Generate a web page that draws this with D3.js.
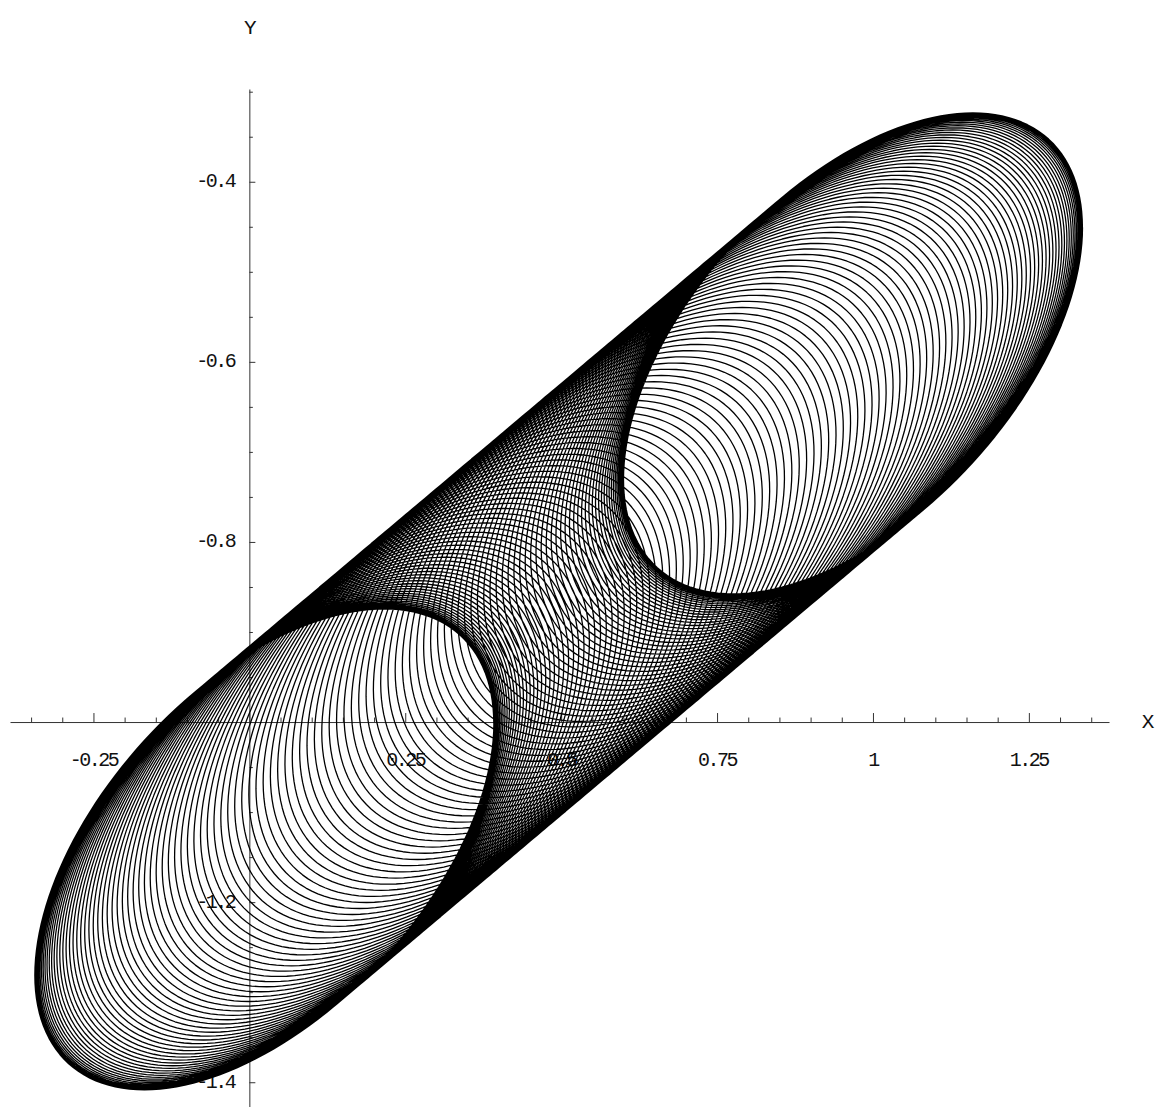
<!DOCTYPE html>
<html>
<head>
<meta charset="utf-8">
<script src="https://cdn.jsdelivr.net/npm/d3@7"></script>
<style>
  html, body { margin: 0; padding: 0; background: #fff; }
  svg { display: block; }
  .lbl { font-family: "Liberation Mono", "DejaVu Sans Mono", monospace; font-size: 20px; fill: #111; letter-spacing: -2.5px; }
  .axname { font-family: "Liberation Mono", "DejaVu Sans Mono", monospace; font-size: 21px; fill: #111; }
</style>
</head>
<body>
<svg id="chart" width="1159" height="1107"></svg>
<script>
// Plot window in data units and where the axes cross
const xDomain = [-0.3838, 1.3785];
const yDomain = [-1.4275, -0.297];
const axesOrigin = [0, -1];

// Axis ticks and labels
const xMajorTicks  = [-0.25, 0, 0.25, 0.5, 0.75, 1, 1.25];
const xTickLabels  = ["-0.25", "", "0.25", "0.5", "0.75", "1", "1.25"];
const xMinorTicks  = [-0.35, -0.3, -0.2, -0.15, -0.1, -0.05, 0.05, 0.1, 0.15, 0.2,
                      0.3, 0.35, 0.4, 0.45, 0.55, 0.6, 0.65, 0.7, 0.8, 0.85, 0.9, 0.95,
                      1.05, 1.1, 1.15, 1.2, 1.3, 1.35];
const yMajorTicks  = [-1.4, -1.2, -1.0, -0.8, -0.6, -0.4];
const yTickLabels  = ["-1.4", "-1.2", "", "-0.8", "-0.6", "-0.4"];
const yMinorTicks  = [-1.35, -1.3, -1.25, -1.15, -1.1, -1.05, -0.95, -0.9, -0.85,
                      -0.75, -0.7, -0.65, -0.55, -0.5, -0.45, -0.35, -0.3];
const axisNames    = ["X", "Y"];

// Trajectory: fast elliptical loops whose centre drifts slowly along the diagonal
const orbitCentre    = [0.496, -0.866];  // midpoint of the drift
const driftAmplitude = [0.472, 0.2754];  // half-length of the drift in x, y
const loopAmplitude  = [0.368, 0.267];   // x and y extent of each loop
const loopPhaseLag   = [0, 1.02];        // phase lag of x and y within a loop (rad)
const loopCount      = 125;              // loops traced while drifting end to end
const samplesPerLoop = 160;

const svg = d3.select("#chart");

const x = d3.scaleLinear().domain(xDomain).range([10, 1109]);
const y = d3.scaleLinear().domain(yDomain).range([1107, 89]);

const x0 = x(axesOrigin[0]);
const y0 = y(axesOrigin[1]);

// ---- axes ----
const axStyle = g => {
  g.selectAll("path.domain").attr("stroke", "#333").attr("stroke-width", 1);
  g.selectAll(".tick line").attr("stroke", "#333").attr("stroke-width", 1);
  g.selectAll(".tick text").remove();
};

svg.append("g").attr("transform", `translate(0,${y0})`)
  .call(d3.axisTop(x).tickValues(xMinorTicks).tickSize(4.5).tickSizeOuter(0).tickFormat(""))
  .call(axStyle);
svg.append("g").attr("transform", `translate(0,${y0})`)
  .call(d3.axisTop(x).tickValues(xMajorTicks).tickSize(9).tickSizeOuter(0).tickFormat(""))
  .call(axStyle).call(g => g.select("path.domain").remove());

svg.append("g").attr("transform", `translate(${x0},0)`)
  .call(d3.axisRight(y).tickValues(yMinorTicks).tickSize(3.5).tickSizeOuter(0).tickFormat(""))
  .call(axStyle);
svg.append("g").attr("transform", `translate(${x0},0)`)
  .call(d3.axisRight(y).tickValues(yMajorTicks).tickSize(6).tickSizeOuter(0).tickFormat(""))
  .call(axStyle).call(g => g.select("path.domain").remove());

// tick labels
svg.append("g").selectAll("text")
  .data(xMajorTicks.map((v, i) => ({v, t: xTickLabels[i]})).filter(d => d.t))
  .join("text")
  .attr("class", "lbl")
  .attr("x", d => x(d.v))
  .attr("y", y0 + 38)
  .attr("text-anchor", "middle")
  .attr("dominant-baseline", "central")
  .text(d => d.t);

svg.append("g").selectAll("text")
  .data(yMajorTicks.map((v, i) => ({v, t: yTickLabels[i]})).filter(d => d.t))
  .join("text")
  .attr("class", "lbl")
  .attr("x", x0 - 15)
  .attr("y", d => y(d.v))
  .attr("text-anchor", "end")
  .attr("dominant-baseline", "central")
  .text(d => d.t);

// axis names
svg.append("text").attr("class", "axname")
  .attr("x", 1148).attr("y", y0).attr("text-anchor", "middle")
  .attr("dominant-baseline", "central").text(axisNames[0]);
svg.append("text").attr("class", "axname")
  .attr("x", x0 + 1).attr("y", 28).attr("text-anchor", "middle")
  .attr("dominant-baseline", "central").text(axisNames[1]);

// ---- trajectory ----
const total = loopCount * samplesPerLoop;
const pts = d3.range(total + 1).map(i => {
  const s = Math.PI * i / total;                  // slow drift phase
  const th = 2 * Math.PI * loopCount * i / total; // fast loop phase
  return [
    orbitCentre[0] - driftAmplitude[0] * Math.cos(s) + loopAmplitude[0] * Math.cos(th - loopPhaseLag[0]),
    orbitCentre[1] - driftAmplitude[1] * Math.cos(s) + loopAmplitude[1] * Math.cos(th - loopPhaseLag[1])
  ];
});

const line = d3.line().x(d => x(d[0])).y(d => y(d[1]));

svg.append("path")
  .attr("d", line(pts))
  .attr("fill", "none")
  .attr("stroke", "#000")
  .attr("stroke-width", 1.3)
  .attr("stroke-linejoin", "round");
</script>
</body>
</html>
